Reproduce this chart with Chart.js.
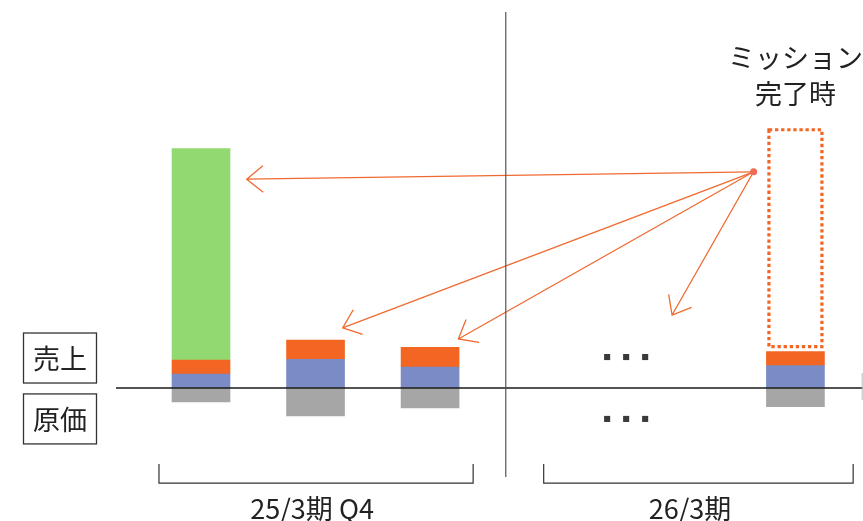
<!DOCTYPE html>
<html lang="ja">
<head>
    <meta charset="UTF-8">
    <meta name="viewport" content="width=device-width, initial-scale=1.0">
    <title>売上・原価 ミッション完了時</title>

    <!-- Chart.js -->
    <script src="https://cdn.jsdelivr.net/npm/chart.js"></script>

    <style>
        body {
            margin: 0;
            background-color: #fff;
        }

        #chart-container {
            width: 863px;
            height: 521px;
            position: relative;
        }
    </style>
</head>
<body>
<div id="chart-container">
    <canvas id="missionChart"></canvas>
</div>

<script>
    // bar positions along the x axis (25/3期 Q4: 3 bars, 26/3期: mission bar)
    var barX = [1, 2, 3, 6.19];

    // 原価 (below zero) and 売上 parts (stacked above zero)
    var costValues = [-1.0, -2.0, -1.43, -1.33];
    var salesBase = [1.0, 2.05, 1.5, 1.6];
    var salesExtra = [1.0, 1.38, 1.4, 1.0];
    var salesMission = [15.1, null, null, null];

    // dotted frame of the mission target on the last bar (from / to)
    var missionTarget = [2.84, 18.55];

    // "..." marks in 26/3期
    var ellipsisX = [4.546, 4.712, 4.878];
    var ellipsisUp = [2.21, 2.21, 2.21];
    var ellipsisDown = [-2.21, -2.21, -2.21];

    // arrows from the mission point to each period
    var arrowSource = [5.825, 15.44];
    var arrowTipX = [1.399, 2.237, 3.247, 5.113];
    var arrowTipY = [14.91, 4.29, 3.50, 5.21];

    // period brackets below the chart
    var groupLabels = ["25/3期 Q4", "26/3期"];
    var groupStart = [0.633, 3.992];
    var groupEnd = [3.376, 6.694];
    var groupLabelX = [1.97, 5.27];

    var dividerX = 3.661;
    var missionTitle = ["ミッション", "完了時"];

    var FONT = '"Noto Sans CJK JP", "Noto Sans", sans-serif';
    var ORANGE = "#F26522";

    function toPoints(xs, ys) {
        return xs.map(function (x, i) { return { x: x, y: ys[i] }; });
    }

    var diagramPlugin = {
        id: "diagram",
        beforeDatasetsDraw: function (chart) {
            var ctx = chart.ctx;
            var sx = chart.scales.x, sy = chart.scales.y;
            var px = function (v) { return sx.getPixelForValue(v); };
            var py = function (v) { return sy.getPixelForValue(v); };

            // arrows
            ctx.save();
            ctx.strokeStyle = "#F06A30";
            ctx.lineWidth = 1.3;
            var x0 = px(arrowSource[0]), y0 = py(arrowSource[1]);
            arrowTipX.forEach(function (tx, i) {
                var x1 = px(tx), y1 = py(arrowTipY[i]);
                var ang = Math.atan2(y0 - y1, x0 - x1);
                ctx.beginPath();
                ctx.moveTo(x0, y0);
                ctx.lineTo(x1, y1);
                ctx.moveTo(x1 + 21 * Math.cos(ang + 0.68), y1 + 21 * Math.sin(ang + 0.68));
                ctx.lineTo(x1, y1);
                ctx.lineTo(x1 + 21 * Math.cos(ang - 0.68), y1 + 21 * Math.sin(ang - 0.68));
                ctx.stroke();
            });
            ctx.restore();
        },
        afterDatasetsDraw: function (chart) {
            var ctx = chart.ctx;
            var sx = chart.scales.x, sy = chart.scales.y;
            var px = function (v) { return sx.getPixelForValue(v); };
            var py = function (v) { return sy.getPixelForValue(v); };
            ctx.save();

            // zero line
            ctx.strokeStyle = "#1a1a1a";
            ctx.lineWidth = 1.6;
            ctx.beginPath();
            ctx.moveTo(px(0.258), py(0));
            ctx.lineTo(chart.chartArea.right, py(0));
            ctx.stroke();

            // small mark at the right edge
            ctx.strokeStyle = "#bbb";
            ctx.lineWidth = 1;
            ctx.beginPath();
            ctx.moveTo(px(6.773), py(1.07));
            ctx.lineTo(px(6.773), py(-0.86));
            ctx.stroke();

            // period divider
            ctx.strokeStyle = "#555";
            ctx.lineWidth = 1.2;
            ctx.beginPath();
            ctx.moveTo(px(dividerX), py(26.86));
            ctx.lineTo(px(dividerX), py(-6.36));
            ctx.stroke();

            // brackets and period labels
            ctx.strokeStyle = "#333";
            ctx.lineWidth = 1.2;
            ctx.fillStyle = "#222";
            ctx.font = "27px " + FONT;
            ctx.textAlign = "center";
            ctx.textBaseline = "middle";
            groupLabels.forEach(function (label, i) {
                var a = px(groupStart[i]), b = px(groupEnd[i]);
                ctx.beginPath();
                ctx.moveTo(a, py(-5.43));
                ctx.lineTo(a, py(-6.79));
                ctx.lineTo(b, py(-6.79));
                ctx.lineTo(b, py(-5.43));
                ctx.stroke();
                ctx.fillText(label, px(groupLabelX[i]), py(-8.6));
            });

            // 売上 / 原価 boxes
            ctx.font = "27px " + FONT;
            ctx.lineWidth = 1.3;
            [["売上", 2.14], ["原価", -2.21]].forEach(function (b) {
                var cy = py(b[1]);
                ctx.strokeRect(23.5, cy - 25, 73, 50);
                ctx.fillText(b[0], 60, cy + 1);
            });

            // dotted mission frame over the last bar
            var meta = chart.getDatasetMeta(2);
            var el = meta.data[3];
            var half = el.width / 2;
            ctx.strokeStyle = ORANGE;
            ctx.lineWidth = 3.2;
            ctx.setLineDash([3.3, 2.8]);
            var top = py(missionTarget[1]) + 1.5, bottom = py(missionTarget[0]) - 1.5;
            ctx.strokeRect(el.x - half + 2.5, top, 2 * half - 5, bottom - top);
            ctx.setLineDash([]);

            // mission title
            ctx.fillStyle = "#222";
            ctx.font = "27px " + FONT;
            ctx.fillText(missionTitle[0], px(barX[3]), py(23.6));
            ctx.fillText(missionTitle[1], px(barX[3]), py(21.0));

            ctx.restore();
        }
    };

    var ctx = document.getElementById("missionChart").getContext("2d");
    var myChart = new Chart(ctx, {
        type: "bar",
        data: {
            datasets: [
                {
                    label: "原価",
                    data: toPoints(barX, costValues),
                    backgroundColor: "#A6A6A6",
                },
                {
                    label: "売上",
                    data: toPoints(barX, salesBase),
                    backgroundColor: "#7A8BC5",
                },
                {
                    label: "売上 増分",
                    data: toPoints(barX, salesExtra),
                    backgroundColor: ORANGE,
                },
                {
                    label: "ミッション",
                    data: toPoints(barX, salesMission),
                    backgroundColor: "#92D971",
                },
                {
                    type: "scatter",
                    label: "...",
                    stack: "dotsUp",
                    data: toPoints(ellipsisX, ellipsisUp),
                    pointStyle: "rect",
                    pointRadius: 4.3,
                    backgroundColor: "#3a3a3a",
                    borderWidth: 0,
                },
                {
                    type: "scatter",
                    label: "...",
                    stack: "dotsDown",
                    data: toPoints(ellipsisX, ellipsisDown),
                    pointStyle: "rect",
                    pointRadius: 4.3,
                    backgroundColor: "#3a3a3a",
                    borderWidth: 0,
                },
                {
                    type: "scatter",
                    label: "source",
                    stack: "source",
                    data: [{ x: arrowSource[0], y: arrowSource[1] }],
                    pointRadius: 3.5,
                    backgroundColor: "#EF6B55",
                    borderWidth: 0,
                },
            ],
        },
        options: {
            responsive: true,
            maintainAspectRatio: false,
            animation: false,
            barThickness: 58,
            layout: { padding: 0, autoPadding: false },
            plugins: {
                legend: { display: false },
                tooltip: { enabled: false },
            },
            scales: {
                x: {
                    type: "linear",
                    min: -0.755,
                    max: 6.78,
                    offset: false,
                    stacked: true,
                    display: false,
                },
                y: {
                    min: -9.5,
                    max: 27.71,
                    stacked: true,
                    display: false,
                },
            },
        },
        plugins: [diagramPlugin],
    });
</script>
</body>
</html>
